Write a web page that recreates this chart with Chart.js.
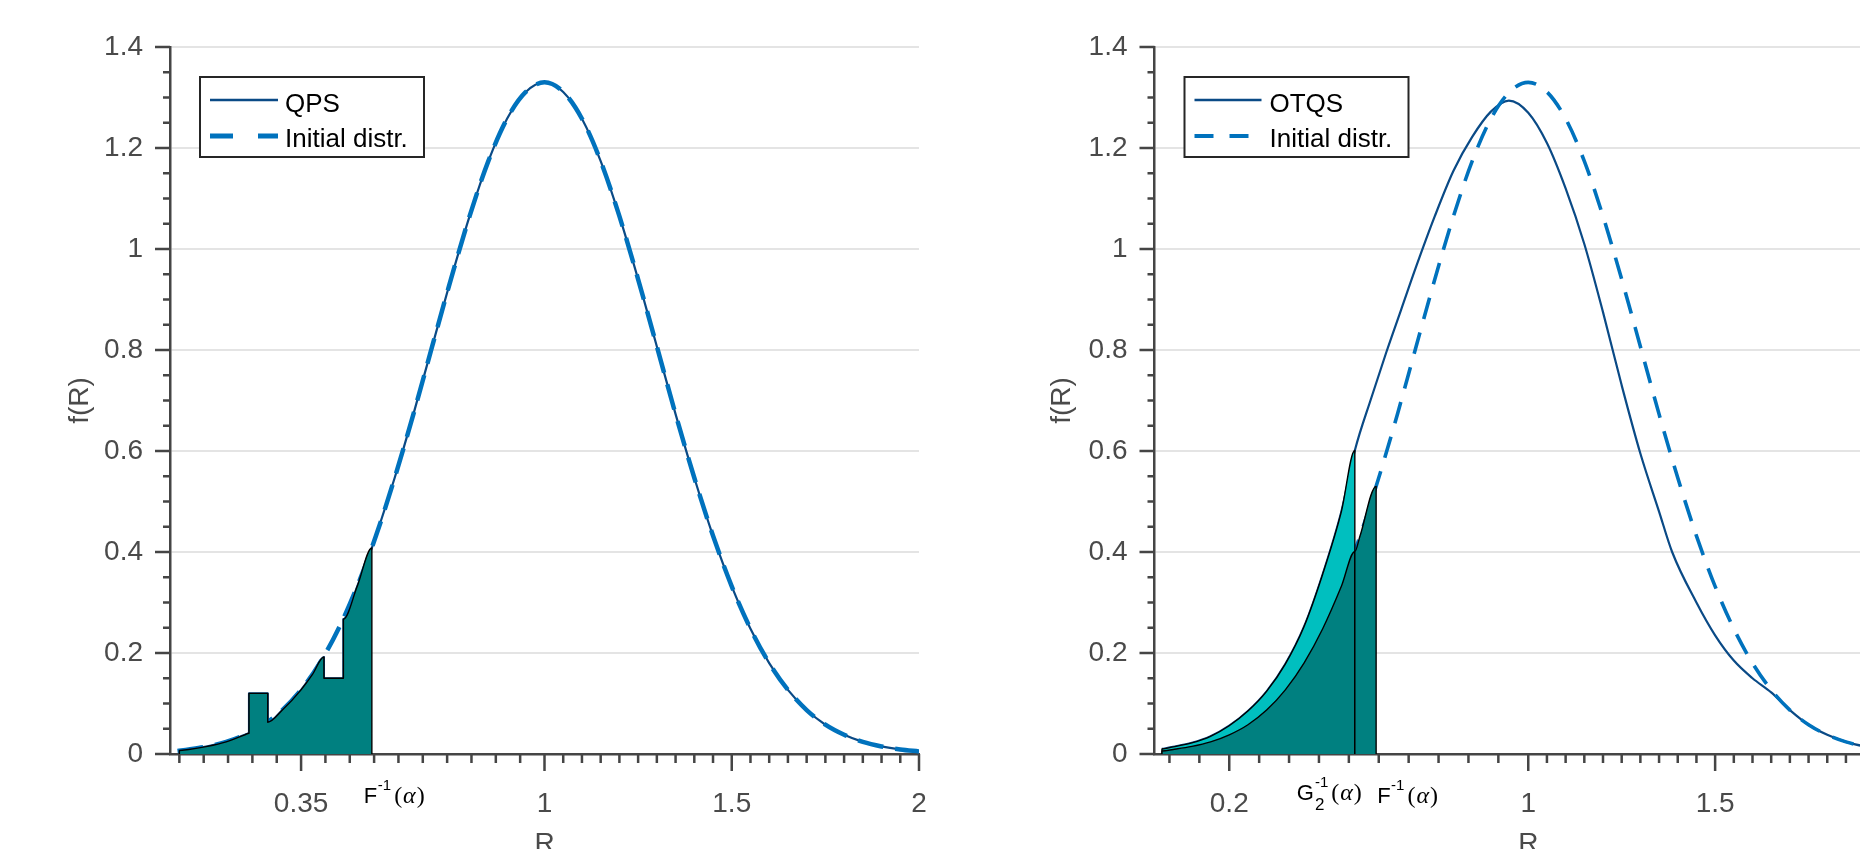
<!DOCTYPE html>
<html>
<head>
<meta charset="utf-8">
<script src="https://cdn.jsdelivr.net/npm/chart.js@4.4.1/dist/chart.umd.min.js"></script>
<style>
html, body { margin: 0; padding: 0; overflow: hidden; background: #ffffff; width: 1860px; height: 849px; }
#wrap { position: relative; width: 1860px; height: 849px; overflow: hidden; }
#c1 { position: absolute; left: 0; top: 0; }
#c2 { position: absolute; left: 930px; top: 0; }
</style>
</head>
<body>
<div id="wrap">
  <canvas id="c1" width="930" height="849"></canvas>
  <canvas id="c2" width="1000" height="849"></canvas>
</div>
<script>
// ---------------- data ----------------
const yTicks = [0, 0.2, 0.4, 0.6, 0.8, 1, 1.2, 1.4];
const xTicksLeft = [0.35, 1, 1.5, 2];
const xTicksRight = [0.2, 1, 1.5, 2];

// Initial distribution (dashed), both panels
const initR = [0.02, 0.05, 0.10, 0.15, 0.20, 0.25, 0.30, 0.35, 0.40, 0.45, 0.50, 0.55, 0.60, 0.65, 0.70, 0.75, 0.80, 0.85, 0.90, 0.95, 1.00, 1.05, 1.10, 1.15, 1.20, 1.25, 1.30, 1.35, 1.40, 1.45, 1.50, 1.55, 1.60, 1.65, 1.70, 1.75, 1.80, 1.85, 1.90, 1.95, 2.00];
const initF = [0.006, 0.009, 0.015, 0.024, 0.038, 0.058, 0.087, 0.127, 0.180, 0.248, 0.332, 0.432, 0.547, 0.673, 0.807, 0.940, 1.065, 1.174, 1.258, 1.311, 1.330, 1.311, 1.258, 1.174, 1.065, 0.940, 0.807, 0.673, 0.547, 0.432, 0.332, 0.248, 0.180, 0.127, 0.087, 0.058, 0.038, 0.024, 0.015, 0.009, 0.005];

// QPS (solid, left panel)
const qpsR = [0.025, 0.05, 0.10, 0.15, 0.20, 0.211, 0.211, 0.261, 0.261, 0.30, 0.35, 0.38, 0.411, 0.411, 0.463, 0.463, 0.50, 0.539, 0.55, 0.60, 0.65, 0.70, 0.75, 0.80, 0.85, 0.90, 0.95, 1.00, 1.05, 1.10, 1.15, 1.20, 1.25, 1.30, 1.35, 1.40, 1.45, 1.50, 1.55, 1.60, 1.65, 1.70, 1.75, 1.80, 1.85, 1.90, 1.95, 2.00];
const qpsF = [0.007, 0.009, 0.015, 0.024, 0.038, 0.041, 0.120, 0.120, 0.063, 0.087, 0.127, 0.157, 0.192, 0.150, 0.150, 0.267, 0.332, 0.408, 0.432, 0.547, 0.673, 0.807, 0.940, 1.065, 1.174, 1.258, 1.311, 1.330, 1.311, 1.258, 1.174, 1.065, 0.940, 0.807, 0.673, 0.547, 0.432, 0.332, 0.248, 0.180, 0.127, 0.087, 0.058, 0.038, 0.024, 0.015, 0.009, 0.005];

// QPS shaded tail (left panel)
const qpsTailR = [0.025, 0.025, 0.05, 0.10, 0.15, 0.20, 0.211, 0.211, 0.261, 0.261, 0.30, 0.35, 0.38, 0.411, 0.411, 0.463, 0.463, 0.50, 0.539, 0.539];
const qpsTailF = [0, 0.007, 0.009, 0.015, 0.024, 0.038, 0.041, 0.120, 0.120, 0.063, 0.087, 0.127, 0.157, 0.192, 0.150, 0.150, 0.267, 0.332, 0.408, 0];

// OTQS (solid, right panel)
const otqsR = [0.02, 0.05, 0.10, 0.15, 0.20, 0.25, 0.30, 0.35, 0.40, 0.45, 0.50, 0.536, 0.58, 0.62, 0.66, 0.70, 0.75, 0.80, 0.85, 0.90, 0.948, 1.00, 1.05, 1.10, 1.15, 1.20, 1.25, 1.30, 1.35, 1.385, 1.45, 1.50, 1.55, 1.60, 1.65, 1.70, 1.75, 1.80, 1.85, 1.90, 1.95, 2.00];
const otqsF = [0.010, 0.014, 0.022, 0.035, 0.056, 0.085, 0.124, 0.178, 0.252, 0.356, 0.480, 0.601, 0.705, 0.795, 0.880, 0.965, 1.065, 1.155, 1.222, 1.272, 1.294, 1.270, 1.210, 1.120, 1.010, 0.875, 0.730, 0.595, 0.480, 0.400, 0.300, 0.235, 0.185, 0.150, 0.122, 0.087, 0.058, 0.038, 0.024, 0.015, 0.009, 0.005];

// Right panel shaded areas
const g2TailR = [0.02, 0.02, 0.05, 0.10, 0.15, 0.20, 0.25, 0.30, 0.35, 0.40, 0.45, 0.50, 0.536, 0.536];
const g2TailF = [0, 0.010, 0.014, 0.022, 0.035, 0.056, 0.085, 0.124, 0.178, 0.252, 0.356, 0.480, 0.601, 0];
const fTailR1 = [0.02, 0.02, 0.05, 0.10, 0.15, 0.20, 0.25, 0.30, 0.35, 0.40, 0.45, 0.50, 0.536, 0.536];
const fTailF1 = [0, 0.006, 0.009, 0.015, 0.024, 0.038, 0.058, 0.087, 0.127, 0.180, 0.248, 0.332, 0.401, 0];
const fTailR2 = [0.536, 0.536, 0.55, 0.593, 0.593];
const fTailF2 = [0, 0.401, 0.432, 0.530, 0];

// quantile positions for annotations
const fInvLeft = 0.539;
const fInvRight = 0.593;
const g2InvRight = 0.536;

// ---------------- styling ----------------
const FONT = "'Liberation Sans', Arial, Helvetica, sans-serif";
const SERIF = "'Liberation Serif', 'DejaVu Serif', serif";
const AXIS_COLOR = '#454545';
const TICK_COLOR = '#4a4a4a';
const SOLID = '#0a4a86';
const DASHED = '#0072bd';
const TEAL = '#008080';
const CYAN = '#00bfbf';
Chart.defaults.font.family = FONT;

function pts(xs, ys) { return xs.map((x, i) => ({ x: x, y: ys[i] })); }

function xMinorTicks(majors, lo) {
  const out = [];
  for (let i = 0; i < majors.length - 1; i++) {
    const a = majors[i], b = majors[i + 1], s = (b - a) / 10;
    for (let k = 1; k < 10; k++) out.push(a + k * s);
  }
  const s0 = (majors[1] - majors[0]) / 10;
  for (let v = majors[0] - s0; v >= lo - 1e-9; v -= s0) out.push(v);
  return out;
}

function drawTexLabel(ctx, parts, x, base) {
  let cx = x;
  let stackW = 0;
  parts.forEach(p => {
    ctx.font = p.font;
    const w = ctx.measureText(p.t).width;
    if (p.stack) {
      ctx.fillText(p.t, cx + (p.dx || 0), base + (p.dy || 0));
      stackW = Math.max(stackW, w + (p.dx || 0));
      return;
    }
    if (stackW) { cx += stackW; stackW = 0; }
    ctx.fillText(p.t, cx + (p.dx || 0), base + (p.dy || 0));
    cx += w + (p.dx || 0);
  });
  if (stackW) cx += stackW;
  return cx - x;
}

function fLabelParts() {
  return [
    { t: 'F', font: '22px ' + FONT },
    { t: '-1', font: '15px ' + FONT, dy: -13, dx: 0.5 },
    { t: '(', font: '24px ' + SERIF, dx: 3 },
    { t: '\u03B1', font: 'italic 24px ' + SERIF, dx: 1 },
    { t: ')', font: '24px ' + SERIF, dx: 1 }
  ];
}
function gLabelParts() {
  return [
    { t: 'G', font: '22px ' + FONT },
    { t: '-1', font: '15px ' + FONT, dy: -13, dx: 1, stack: true },
    { t: '2', font: '17px ' + FONT, dy: 10, dx: 1, stack: true },
    { t: '(', font: '24px ' + SERIF, dx: 3 },
    { t: '\u03B1', font: 'italic 24px ' + SERIF, dx: 1 },
    { t: ')', font: '24px ' + SERIF, dx: 1 }
  ];
}

function decorPlugin(cfg) {
  return {
    id: 'decor',
    afterDraw(chart) {
      const ctx = chart.ctx, xs = chart.scales.x, ys = chart.scales.y, ca = chart.chartArea;
      ctx.save();
      ctx.strokeStyle = AXIS_COLOR;
      ctx.lineWidth = 2.5;
      ctx.lineCap = 'butt';
      const xMaj = cfg.xMajor, xMin = xMinorTicks(cfg.xMajor, 0);
      ctx.beginPath();
      xMaj.forEach(v => { const p = xs.getPixelForValue(v); if (p <= ca.right + 1) { ctx.moveTo(p, ca.bottom); ctx.lineTo(p, ca.bottom + 17); } });
      xMin.forEach(v => { const p = xs.getPixelForValue(v); if (p <= ca.right + 1) { ctx.moveTo(p, ca.bottom); ctx.lineTo(p, ca.bottom + 9); } });
      yTicks.forEach(v => { const p = ys.getPixelForValue(v); ctx.moveTo(ca.left, p); ctx.lineTo(ca.left - 15, p); });
      for (let k = 0; k < yTicks.length - 1; k++) {
        const a = yTicks[k], b = yTicks[k + 1];
        for (let j = 1; j < 4; j++) {
          const p = ys.getPixelForValue(a + (b - a) * j / 4);
          ctx.moveTo(ca.left, p); ctx.lineTo(ca.left - 7, p);
        }
      }
      ctx.stroke();

      // legend
      const bx = ca.left + 30, by = ca.top + 30, bw = 224, bh = 80;
      ctx.fillStyle = '#ffffff';
      ctx.fillRect(bx, by, bw, bh);
      ctx.strokeStyle = '#262626';
      ctx.lineWidth = 2;
      ctx.strokeRect(bx, by, bw, bh);
      const dsSolid = chart.data.datasets[cfg.solidIndex];
      const dsDash = chart.data.datasets[cfg.dashIndex];
      ctx.lineWidth = 2.5;
      ctx.strokeStyle = SOLID;
      ctx.beginPath(); ctx.moveTo(bx + 10, by + 23); ctx.lineTo(bx + cfg.legLineEnd, by + 23); ctx.stroke();
      ctx.lineWidth = cfg.legDashWidth;
      ctx.strokeStyle = DASHED;
      ctx.beginPath();
      cfg.legDashes.forEach(d => { ctx.moveTo(bx + d[0], by + 59); ctx.lineTo(bx + d[1], by + 59); });
      ctx.stroke();
      ctx.fillStyle = '#000000';
      ctx.font = '26px ' + FONT;
      ctx.textAlign = 'left';
      ctx.textBaseline = 'alphabetic';
      ctx.fillText(dsSolid.label, bx + 85, by + 35);
      ctx.fillText(dsDash.label, bx + 85, by + 70);

      // quantile annotations
      ctx.fillStyle = '#000000';
      cfg.annotations.forEach(a => {
        const parts = a.kind === 'F' ? fLabelParts() : gLabelParts();
        const px = xs.getPixelForValue(a.value);
        if (a.align === 'right') {
          ctx.save(); ctx.globalAlpha = 0;
          const w = drawTexLabel(ctx, parts, 0, -100);
          ctx.restore();
          drawTexLabel(ctx, parts, px + a.dx - w, ca.bottom + a.dy);
        } else {
          drawTexLabel(ctx, parts, px + a.dx, ca.bottom + a.dy);
        }
      });
      ctx.restore();
    }
  };
}

function makeChart(id, cfg) {
  return new Chart(document.getElementById(id), {
    type: 'line',
    data: { datasets: cfg.datasets },
    options: {
      responsive: false,
      animation: false,
      devicePixelRatio: 1,
      layout: { padding: cfg.padding },
      events: [],
      plugins: { legend: { display: false }, tooltip: { enabled: false } },
      elements: { point: { radius: 0, hoverRadius: 0 }, line: { borderCapStyle: 'butt', borderJoinStyle: 'round' } },
      scales: {
        x: {
          type: 'linear', min: 0, max: 2, position: 'bottom',
          afterBuildTicks: s => { s.ticks = cfg.xMajor.map(v => ({ value: v })); },
          afterFit: s => { s.height = 95; s.paddingLeft = 0; s.paddingRight = 0; },
          grid: { display: false, drawTicks: false },
          border: { display: true, color: AXIS_COLOR, width: 2.5 },
          ticks: { color: TICK_COLOR, font: { size: 28 }, padding: 33, maxRotation: 0, autoSkip: false, callback: v => String(v) },
          title: { display: true, text: 'R', color: TICK_COLOR, font: { size: 28 }, padding: { top: 0, bottom: -12 } }
        },
        y: {
          type: 'linear', min: 0, max: 1.4,
          afterBuildTicks: s => { s.ticks = yTicks.map(v => ({ value: v })); },
          afterFit: s => { s.width = cfg.yWidth; s.paddingTop = 0; s.paddingBottom = 0; },
          grid: { drawTicks: false, color: c => (c.tick && c.tick.value === 0) ? 'rgba(0,0,0,0)' : '#e4e4e4', lineWidth: 2 },
          border: { display: true, color: AXIS_COLOR, width: 2.5 },
          ticks: { color: TICK_COLOR, font: { size: 28 }, padding: 27, autoSkip: false, callback: v => String(v) },
          title: { display: true, text: 'f(R)', color: TICK_COLOR, font: { size: 28 }, padding: { top: cfg.yTitlePad, bottom: 0 } }
        }
      }
    },
    plugins: [decorPlugin(cfg)]
  });
}

// ---------- left panel ----------
makeChart('c1', {
  padding: { left: 0, top: 47, right: 11, bottom: 0 },
  yWidth: 170,
  yTitlePad: 63,
  xMajor: xTicksLeft,
  solidIndex: 0, dashIndex: 1,
  legLineEnd: 78, legDashWidth: 5, legDashes: [[10, 33], [58, 78]],
  annotations: [{ kind: 'F', value: fInvLeft, dx: -8, dy: 49, align: 'left' }],
  datasets: [
    { label: 'QPS', data: pts(qpsR, qpsF), borderColor: SOLID, borderWidth: 2.2, fill: false, cubicInterpolationMode: 'monotone', order: 6 },
    { label: 'Initial distr.', data: pts(initR, initF), borderColor: DASHED, borderWidth: 4.5, borderDash: [26, 12], fill: false, cubicInterpolationMode: 'monotone', order: 5 },
    { label: 'QPS tail', data: pts(qpsTailR, qpsTailF), borderColor: '#000000', borderWidth: 1.4, backgroundColor: TEAL, fill: 'origin', cubicInterpolationMode: 'monotone', order: 1 }
  ]
});

// ---------- right panel ----------
makeChart('c2', {
  padding: { left: 0, top: 47, right: 28, bottom: 0 },
  yWidth: 224.5,
  yTitlePad: 115,
  xMajor: xTicksRight,
  solidIndex: 0, dashIndex: 1,
  legLineEnd: 77, legDashWidth: 4, legDashes: [[10, 29], [45, 64]],
  annotations: [
    { kind: 'G', value: g2InvRight, dx: 7, dy: 46, align: 'right' },
    { kind: 'F', value: fInvRight, dx: 1, dy: 49, align: 'left' }
  ],
  datasets: [
    { label: 'OTQS', data: pts(otqsR, otqsF), borderColor: SOLID, borderWidth: 2.2, fill: false, cubicInterpolationMode: 'monotone', order: 6 },
    { label: 'Initial distr.', data: pts(initR, initF), borderColor: DASHED, borderWidth: 3.6, borderDash: [22, 14], fill: false, cubicInterpolationMode: 'monotone', order: 5 },
    { label: 'G2 tail', data: pts(g2TailR, g2TailF), borderColor: '#000000', borderWidth: 1.4, backgroundColor: CYAN, fill: 'origin', cubicInterpolationMode: 'monotone', order: 2 },
    { label: 'F tail a', data: pts(fTailR1, fTailF1), borderColor: '#000000', borderWidth: 1.4, backgroundColor: TEAL, fill: 'origin', cubicInterpolationMode: 'monotone', order: 1 },
    { label: 'F tail b', data: pts(fTailR2, fTailF2), borderColor: '#000000', borderWidth: 1.4, backgroundColor: TEAL, fill: 'origin', cubicInterpolationMode: 'monotone', order: 0 }
  ]
});
</script>
</body>
</html>
